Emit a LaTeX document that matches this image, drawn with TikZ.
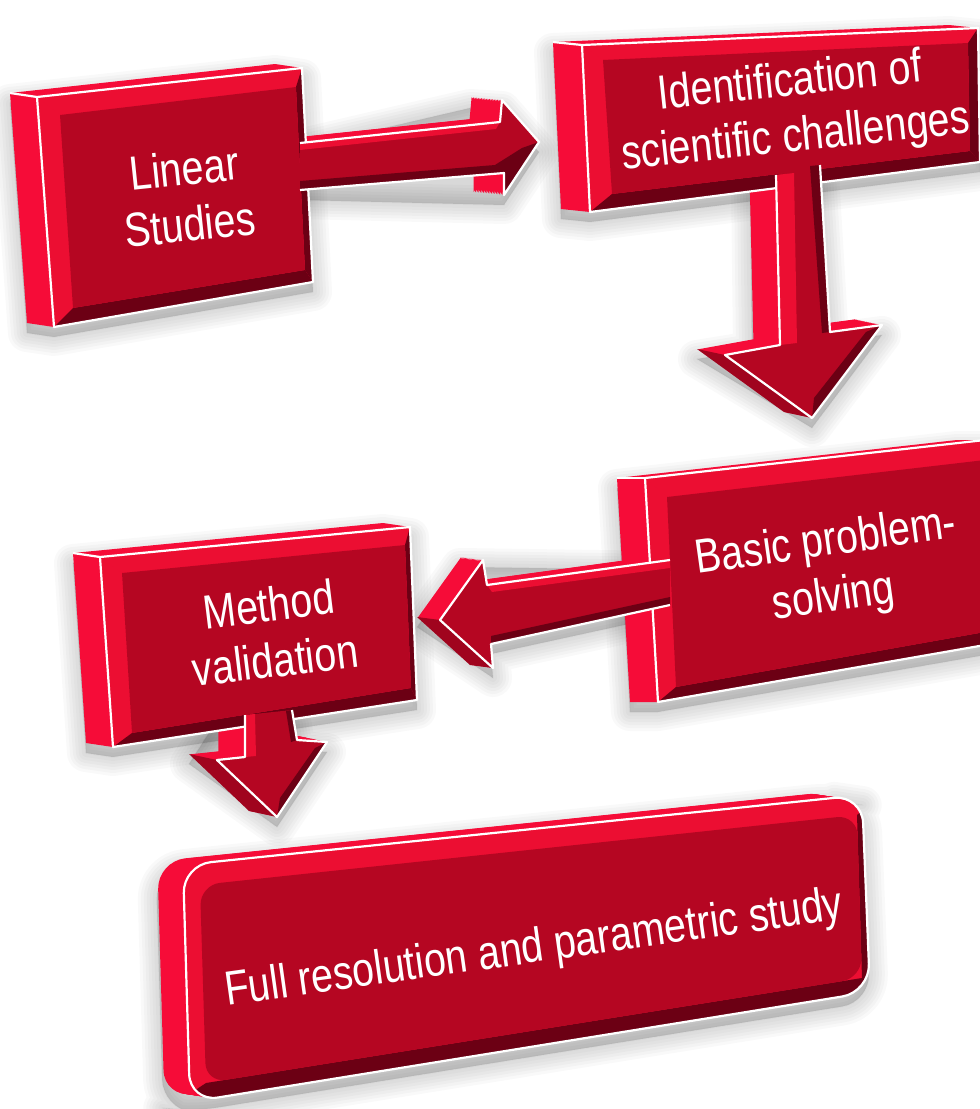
\documentclass[tikz,border=0pt]{standalone}
\usepackage{fontspec}
\newfontfamily\boxfont[FakeStretch=0.82]{Liberation Sans}
\definecolor{frontred}{RGB}{181,6,34}
\definecolor{sidered}{RGB}{246,12,56}
\definecolor{litered}{RGB}{236,14,50}
\definecolor{darkred}{RGB}{108,0,20}
\definecolor{midred}{RGB}{160,4,30}
\tikzset{
  sideface/.style={fill=sidered},
  frontface/.style={fill=frontred},
  litebevel/.style={fill=litered},
  darkbevel/.style={fill=darkred},
  midface/.style={fill=midred},
  whiterim/.style={draw=white, line width=1.1pt, line join=round},
  hazefill/.style={fill=black, draw=black, opacity=0.022, line join=round},
  boxtext/.style={text=white, align=center, inner sep=0pt,
    font=\boxfont\fontsize{24}{28}\selectfont},
}
% soft grey shadow under a shape
\newcommand{\softshadow}[1]{\foreach \w in {1,4,...,19}{\filldraw[hazefill, line width=\w pt, shift={(0,10)}] #1;}}
% arrow outlines, left open where they come out of a box
\def\arrA{(300,143) -- (500,122) -- (502,100) -- (539,142) -- (504,195) -- (504,173) -- (300,190)}
\def\arrB{(776,175) -- (780,345) -- (725,355) -- (812,418) -- (882,325) -- (830,332) -- (820,165)}
\def\arrC{(670,560) -- (487,585) -- (483,560) -- (440,620) -- (493,668) -- (491,644) -- (670,605)}
\def\arrD{(245,715) -- (245,757) -- (217,760) -- (277,817) -- (327,742) -- (297,740) -- (292,710)}
\def\boxE{(183,865) -- (862,795) -- (870,992) -- (190,1102) -- cycle}
\begin{document}
\begin{tikzpicture}[x=0.5pt,y=-0.5pt]
\clip (0,0) rectangle (980,1109);

% shadows
\softshadow{(10,93) -- (275,64) -- (302,68) -- (313,282) -- (54,327) -- (27,323) -- cycle}
\softshadow{(290,140) -- (470,98) -- (502,100) -- (539,142) -- (504,195) -- (300,190) -- cycle}
\softshadow{(553,42) -- (949,25) -- (978,28) -- (980,162) -- (590,212) -- (561,209) -- cycle}
\softshadow{(750,170) -- (820,165) -- (830,332) -- (882,325) -- (812,418) -- (697,349) -- (752,340) -- cycle}
\softshadow{(617,478) -- (957,440) -- (985,440) -- (985,645) -- (658,702) -- (630,702) -- cycle}
\softshadow{(670,560) -- (460,557) -- (417,617) -- (493,668) -- (491,644) -- (670,605) -- cycle}
\softshadow{(73,553) -- (383,523) -- (410,527) -- (417,700) -- (113,747) -- (86,743) -- cycle}
\softshadow{(217,710) -- (292,710) -- (297,740) -- (327,742) -- (277,817) -- (189,754) -- cycle}
\softshadow{[rounded corners=14pt] (156,861) -- (835,791) -- (862,795) -- (870,992) -- (190,1102) -- (163,1098) -- cycle}

% Linear Studies
\foreach \t in {0,0.05,...,1.0}
  \fill[sideface,shift={(-32*\t,-3*\t)}] \arrA -- cycle;
\fill[sideface] (10,93) -- (275,64) -- (302,68) -- (313,282) -- (54,327) -- (27,323) -- cycle;
\fill[litebevel] (37,97) -- (302,68) -- (296,87) -- (60,115) -- cycle;
\fill[litebevel] (37,97) -- (60,115) -- (73,308) -- (54,327) -- cycle;
\fill[darkbevel] (302,68) -- (313,282) -- (305,270) -- (296,87) -- cycle;
\fill[darkbevel] (54,327) -- (313,282) -- (305,270) -- (73,308) -- cycle;
\fill[frontface] (60,115) -- (296,87) -- (305,270) -- (73,308) -- cycle;
\draw[whiterim] (10,93) -- (37,97);
\draw[whiterim] (37,97) -- (302,68) -- (313,282) -- (54,327) -- cycle;
\node[boxtext,rotate=6] (lin) at (187,196) {Linear\\Studies};
\fill[frontface] \arrA -- cycle;
\fill[litebevel] (300,143) -- (500,122) -- (496,129) -- (300,150) -- cycle;
\fill[darkbevel] (300,181) -- (495,165) -- (522,148) -- (539,142) -- (504,195) -- (504,173) -- (300,190) -- cycle;
\draw[whiterim] \arrA;

% Identification of scientific challenges
\foreach \t in {0,0.05,...,1.0}
  \fill[sideface,shift={(-28*\t,-6*\t)}] \arrB -- cycle;
\fill[midface] (725,355) -- (812,418) -- (784,412) -- (697,349) -- cycle;
\fill[sideface] (553,42) -- (949,25) -- (978,28) -- (980,162) -- (590,212) -- (561,209) -- cycle;
\fill[litebevel] (582,45) -- (978,28) -- (968,43) -- (603,60) -- cycle;
\fill[litebevel] (582,45) -- (603,60) -- (612,194) -- (590,212) -- cycle;
\fill[darkbevel] (978,28) -- (980,162) -- (970,151) -- (968,43) -- cycle;
\fill[darkbevel] (590,212) -- (980,162) -- (970,151) -- (612,194) -- cycle;
\fill[frontface] (603,60) -- (968,43) -- (970,151) -- (612,194) -- cycle;
\draw[whiterim] (553,42) -- (582,45);
\draw[whiterim] (582,45) -- (978,28) -- (980,162) -- (590,212) -- cycle;
\node[boxtext,rotate=6] (ide) at (793,111) {Identification of\\scientific challenges};
\fill[frontface] \arrB -- cycle;
\fill[litebevel] (776,175) -- (794,173) -- (797,343) -- (780,345) -- cycle;
\fill[darkbevel] (810,166) -- (820,165) -- (830,332) -- (822,333) -- cycle;
\fill[darkbevel] (882,325) -- (812,418) -- (814,398) -- (866,332) -- cycle;
\draw[whiterim] \arrB;

% Basic problem-solving
\foreach \t in {0,0.05,...,1.0}
  \fill[sideface,shift={(-23*\t,-3*\t)}] \arrC -- cycle;
\fill[midface] (440,620) -- (493,668) -- (470,665) -- (417,617) -- cycle;
\fill[sideface] (617,478) -- (957,440) -- (985,440) -- (985,645) -- (658,702) -- (630,702) -- cycle;
\fill[litebevel] (645,478) -- (985,440) -- (985,460) -- (667,497) -- cycle;
\fill[litebevel] (645,478) -- (667,497) -- (676,687) -- (658,702) -- cycle;
\fill[darkbevel] (658,702) -- (985,645) -- (985,632) -- (676,687) -- cycle;
\fill[frontface] (667,497) -- (985,460) -- (985,632) -- (676,687) -- cycle;
\draw[whiterim] (617,478) -- (645,478);
\draw[whiterim] (985,440) -- (645,478) -- (658,702) -- (985,645);
\node[boxtext,rotate=8] (bas) at (830,571) {Basic problem-\\solving};
\fill[frontface] \arrC -- cycle;
\fill[litebevel] (487,585) -- (670,560) -- (670,568) -- (492,592) -- cycle;
\fill[darkbevel] (491,636) -- (670,597) -- (670,605) -- (491,644) -- cycle;
\draw[whiterim] \arrC;

% Method validation
\foreach \t in {0,0.05,...,1.0}
  \fill[sideface,shift={(-28*\t,-6*\t)}] \arrD -- cycle;
\fill[midface] (217,760) -- (277,817) -- (249,811) -- (189,754) -- cycle;
\fill[sideface] (73,553) -- (383,523) -- (410,527) -- (417,700) -- (113,747) -- (86,743) -- cycle;
\fill[litebevel] (100,557) -- (410,527) -- (405,545) -- (122,573) -- cycle;
\fill[litebevel] (100,557) -- (122,573) -- (132,733) -- (113,747) -- cycle;
\fill[darkbevel] (410,527) -- (417,700) -- (411,688) -- (405,545) -- cycle;
\fill[darkbevel] (113,747) -- (417,700) -- (411,688) -- (132,733) -- cycle;
\fill[frontface] (122,573) -- (405,545) -- (411,688) -- (132,733) -- cycle;
\draw[whiterim] (73,553) -- (100,557);
\draw[whiterim] (100,557) -- (410,527) -- (417,700) -- (113,747) -- cycle;
\node[boxtext,rotate=7] (met) at (272,632) {Method\\validation};
\fill[frontface] \arrD -- cycle;
\fill[litebevel] (245,715) -- (255,714) -- (256,756) -- (245,757) -- cycle;
\fill[darkbevel] (286,711) -- (292,710) -- (297,740) -- (291,742) -- cycle;
\fill[darkbevel] (327,742) -- (277,817) -- (280,798) -- (315,748) -- cycle;
\draw[whiterim] \arrD;

% Full resolution and parametric study
\foreach \t in {0,0.05,...,1.0}
  \fill[sideface,rounded corners=14pt,shift={(-27*\t,-4*\t)}] \boxE;
\begin{scope}
  \clip[rounded corners=14pt] \boxE;
  \fill[litebevel] (150,780) rectangle (900,1109);
  \fill[darkbevel] (206,1083) -- (862,978) -- (857,815) -- (900,780) -- (900,1120) -- (150,1120) -- cycle;
\end{scope}
\fill[frontface,rounded corners=10pt] (200,885) -- (857,815) -- (862,978) -- (206,1083) -- cycle;
\draw[whiterim,rounded corners=14pt] \boxE;
\node[boxtext,rotate=8] (ful) at (534,950) {Full resolution and parametric study};
\end{tikzpicture}
\end{document}
